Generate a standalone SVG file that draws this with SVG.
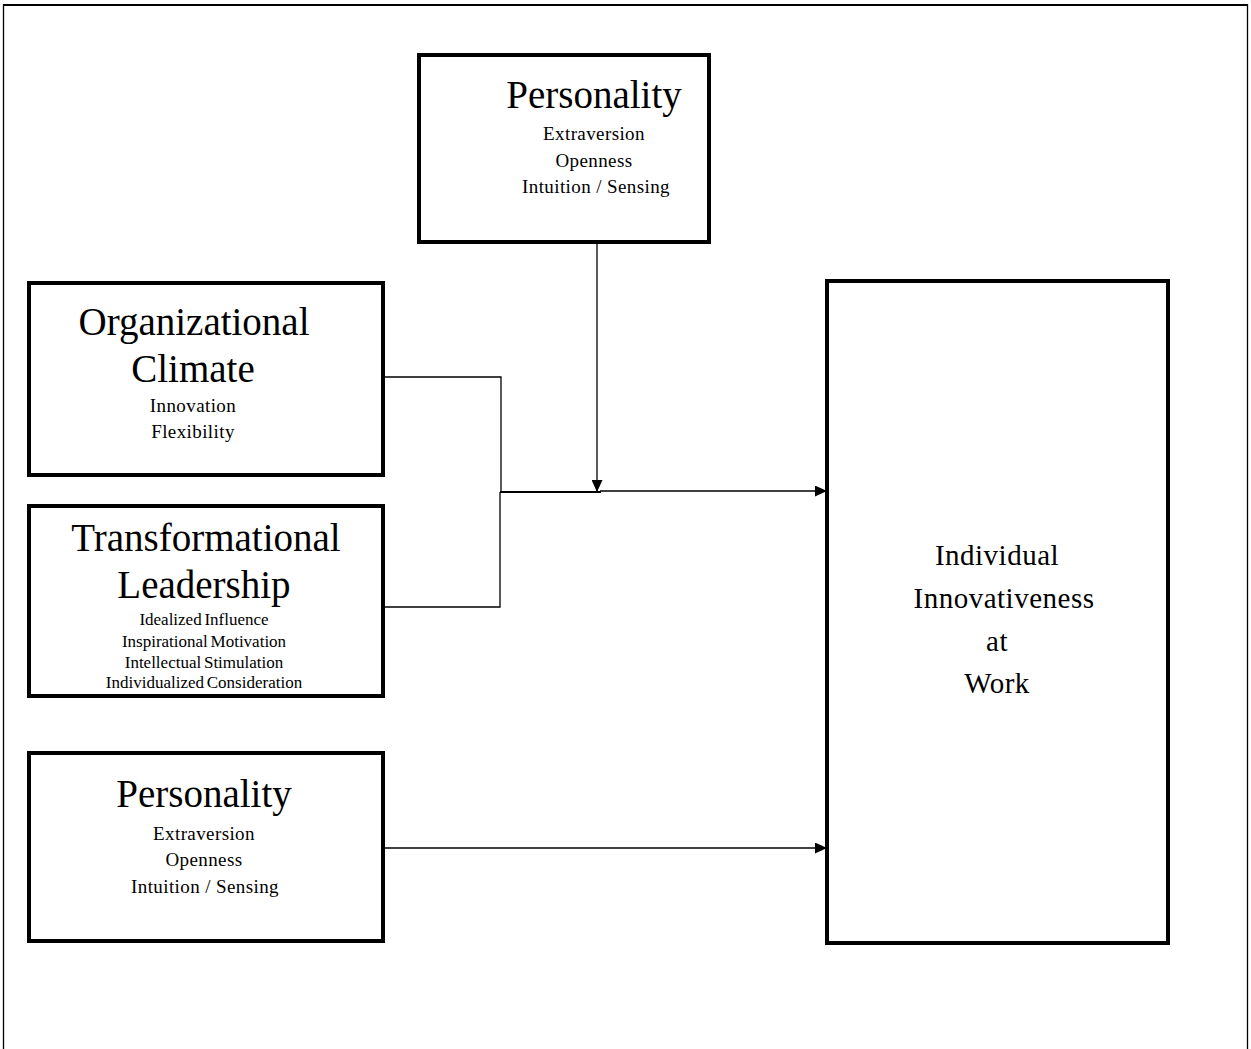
<svg xmlns="http://www.w3.org/2000/svg" width="1251" height="1049" viewBox="0 0 1251 1049">
<style>
.box{fill:#fff;stroke:#000;stroke-width:4}
.t{font-family:"Liberation Serif","Times New Roman",serif;fill:#000;text-anchor:middle}
.h{font-size:39px}
.s{font-size:19px;letter-spacing:0.4px}
.ss{font-size:17px;word-spacing:-1.5px}
.b{font-size:29px;letter-spacing:0.5px}
.c{fill:none;stroke:#000;stroke-width:1.3}
</style>
<defs>
<marker id="ah" markerWidth="12" markerHeight="11" refX="12" refY="5.5" orient="auto" markerUnits="userSpaceOnUse">
<path d="M0,0 L12,5.5 L0,11 Z" fill="#000"/>
</marker>
</defs>
<rect width="1251" height="1049" fill="#fff"/>
<g id="frame">
<path d="M3.5,1049 V5 H1247.5 V1049" fill="none" stroke="#000" stroke-width="1.3"/>
<line x1="3" y1="5" x2="1248" y2="5" stroke="#000" stroke-width="2.2"/>
</g>
<g id="connectors">
<path class="c" d="M383,377 H501 V492"/>
<path class="c" d="M383,607 H500 V492"/>
<line x1="500" y1="492" x2="601" y2="492" stroke="#000" stroke-width="2.2"/>
<line class="c" x1="597" y1="242" x2="597" y2="492" marker-end="url(#ah)"/>
<line class="c" x1="600" y1="491" x2="827" y2="491" marker-end="url(#ah)"/>
<line class="c" x1="383" y1="848" x2="827" y2="848" marker-end="url(#ah)"/>
</g>
<g id="personality-top">
<rect class="box" x="419" y="55" width="290" height="187"/>
<text class="t h" x="594" y="108">Personality</text>
<text class="t s" x="594" y="140">Extraversion</text>
<text class="t s" x="594" y="167">Openness</text>
<text class="t s" x="596" y="193">Intuition / Sensing</text>
</g>
<g id="org-climate">
<rect class="box" x="29" y="283" width="354" height="192"/>
<text class="t h" x="194" y="335">Organizational</text>
<text class="t h" x="193" y="382">Climate</text>
<text class="t s" x="193" y="412">Innovation</text>
<text class="t s" x="193" y="438">Flexibility</text>
</g>
<g id="transformational">
<rect class="box" x="29" y="506" width="354" height="190"/>
<text class="t h" x="206" y="551">Transformational</text>
<text class="t h" x="204" y="598">Leadership</text>
<text class="t ss" x="204" y="625">Idealized Influence</text>
<text class="t ss" x="204" y="647">Inspirational Motivation</text>
<text class="t ss" x="204" y="668">Intellectual Stimulation</text>
<text class="t ss" x="204" y="688">Individualized Consideration</text>
</g>
<g id="personality-bottom">
<rect class="box" x="29" y="753" width="354" height="188"/>
<text class="t h" x="204" y="807">Personality</text>
<text class="t s" x="204" y="840">Extraversion</text>
<text class="t s" x="204" y="866">Openness</text>
<text class="t s" x="205" y="893">Intuition / Sensing</text>
</g>
<g id="individual-innovativeness">
<rect class="box" x="827" y="281" width="341" height="662"/>
<text class="t b" x="997" y="565">Individual</text>
<text class="t b" x="1004" y="608">Innovativeness</text>
<text class="t b" x="997" y="651">at</text>
<text class="t b" x="997" y="693">Work</text>
</g>
</svg>
